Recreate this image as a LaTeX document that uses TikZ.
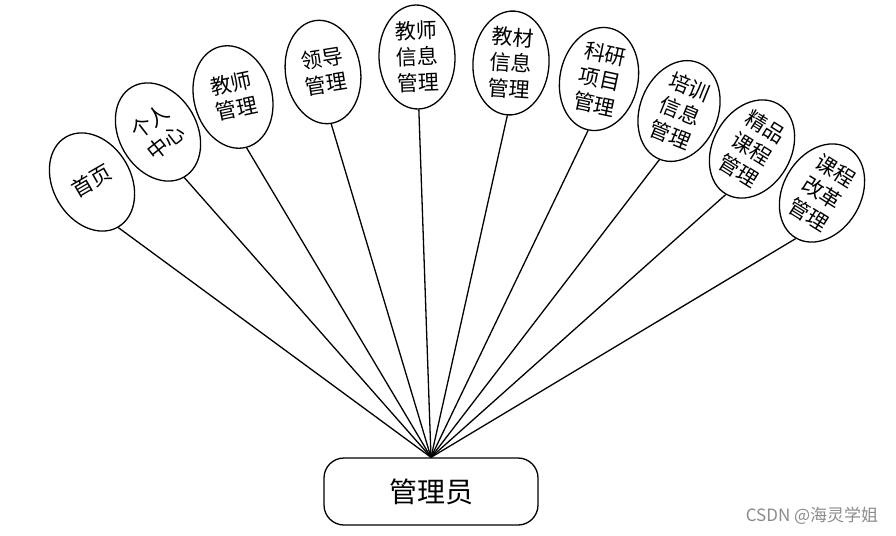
\documentclass[tikz,border=0pt]{standalone}
\usepackage{fontspec}
\newfontfamily\cjk{Noto Sans CJK SC}
\usetikzlibrary{shapes.geometric}
\begin{document}
\begin{tikzpicture}[x=1pt,y=1pt]
\tikzset{
 oval/.style={ellipse, draw, line width=1.3pt, minimum width=78pt, minimum height=104pt, inner sep=0pt},
 lab/.style={font=\cjk\fontsize{21}{26}\selectfont, align=center, inner sep=0pt},
 link/.style={line width=1.3pt},
}
\useasboundingbox (0,0) rectangle (896,-535);
\fill[white] (0,0) rectangle (896,-535);
% ellipses
\node[oval, rotate=30] (e1) at (92,-182) {};
\node[lab, rotate=30] (t1) at (92,-181) {首页};
\node[oval, rotate=30] (e2) at (158,-132) {};
\node[lab, rotate=38] (t2) at (158,-132) {个人\\中心};
\node[oval, rotate=15] (e3) at (233,-97) {};
\node[lab, rotate=12] (t3) at (234,-96) {教师\\管理};
\node[oval, rotate=9, minimum width=75pt] (e4) at (323,-72) {};
\node[lab, rotate=9] (t4) at (324,-71) {领导\\管理};
\node[oval, rotate=2, minimum width=76pt] (e5) at (417,-57) {};
\node[lab, rotate=2] (t5) at (417,-57) {教师\\信息\\管理};
\node[oval, rotate=-4, minimum width=76pt] (e6) at (511,-63) {};
\node[lab, rotate=-4] (t6) at (511,-63) {教材\\信息\\管理};
\node[oval, rotate=-12] (e7) at (599,-79) {};
\node[lab, rotate=-12] (t7) at (600,-79) {科研\\项目\\管理};
\node[oval, rotate=-22] (e8) at (679,-111) {};
\node[lab, rotate=-22] (t8) at (680,-111) {培训\\信息\\管理};
\node[oval, rotate=-30] (e9) at (752,-149) {};
\node[lab, rotate=-32] (t9) at (752,-149) {精品\\课程\\管理};
\node[oval, rotate=-30] (e10) at (822,-193) {};
\node[lab, rotate=-32] (t10) at (822,-193) {课程\\改革\\管理};
% admin box
\node[draw, rounded corners=20pt, line width=1.3pt, minimum width=214pt, minimum height=67pt, inner sep=0pt, font=\cjk\fontsize{28}{28}\selectfont] (admin) at (431,-491.5) {管理员};
% connectors
\foreach \i in {1,...,10} {
  \draw[link] (e\i.south) -- (admin.north);
}
% watermark
\node[font=\cjk\fontsize{17}{17}\selectfont, text=black!45] (wm) at (812,-516) {CSDN @海灵学姐};
\end{tikzpicture}
\end{document}
